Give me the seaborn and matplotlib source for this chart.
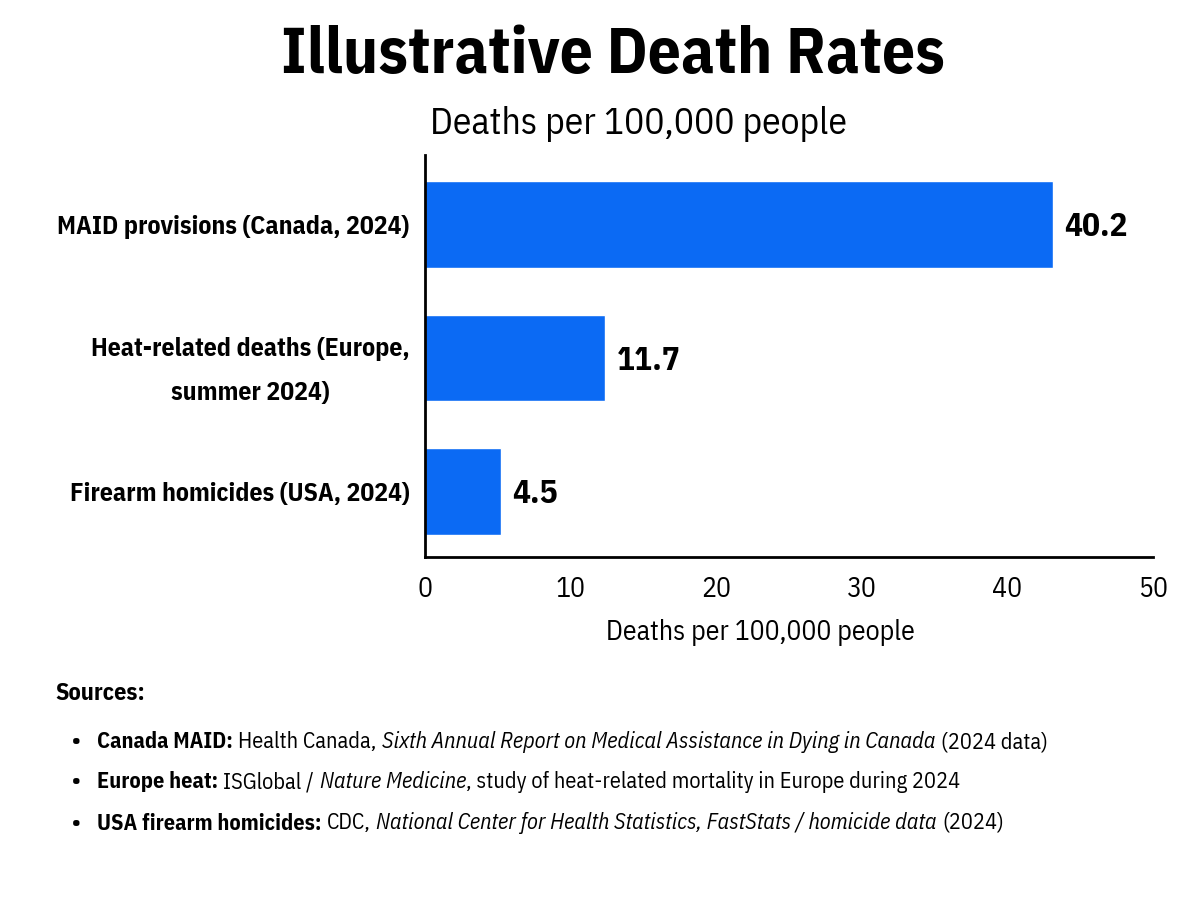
import matplotlib
matplotlib.use("Agg")
import matplotlib.pyplot as plt
import seaborn as sns
import pandas as pd

categories = [
    "MAID provisions (Canada, 2024)",
    "Heat-related deaths (Europe,\nsummer 2024)",
    "Firearm homicides (USA, 2024)",
]
bar_lengths = [43.1, 12.4, 5.2]
value_labels = ["40.2", "11.7", "4.5"]
x_ticks = [0, 10, 20, 30, 40, 50]

source_rows = [
    [("Canada MAID:", "bold"), (" Health Canada, ", "normal"),
     ("Sixth Annual Report on Medical Assistance in Dying in Canada", "italic"),
     (" (2024 data)", "normal")],
    [("Europe heat:", "bold"), (" ISGlobal / ", "normal"), ("Nature Medicine", "italic"),
     (", study of heat-related mortality in Europe during 2024", "normal")],
    [("USA firearm homicides:", "bold"), (" CDC, ", "normal"),
     ("National Center for Health Statistics, FastStats / homicide data", "italic"),
     (" (2024)", "normal")],
]

BLUE = "#0B6AF4"

sns.set_theme(style="white")
plt.rcParams["font.family"] = ["IBM Plex Sans Condensed", "DejaVu Sans"]
plt.rcParams["text.color"] = "black"

df = pd.DataFrame({"category": categories, "value": bar_lengths})

fig, ax = plt.subplots(figsize=(12, 8.98), dpi=100)
fig.subplots_adjust(left=0.354, right=0.961, top=0.827, bottom=0.380)

sns.barplot(data=df, x="value", y="category", color=BLUE, saturation=1,
            width=0.65, ax=ax)

for i, (v, lab) in enumerate(zip(bar_lengths, value_labels)):
    ax.text(v + 0.8, i + 0.02, lab, va="center", ha="left", fontsize=24,
            fontweight="bold")

ax.set_xlim(0, 50)
ax.set_ylim(2.49, -0.52)
ax.set_xticks(x_ticks)
ax.set_xlabel("")
ax.set_ylabel("")
ax.tick_params(axis="x", length=8, width=1.5, pad=6, labelsize=20,
               colors="black")
ax.tick_params(axis="y", length=0, pad=11, labelsize=18.5, labelcolor="black")
for t in ax.get_yticklabels():
    t.set_fontweight("bold")
    t.set_multialignment("center")
    t.set_linespacing(2.05)

for s in ["top", "right"]:
    ax.spines[s].set_visible(False)
for s in ["left", "bottom"]:
    ax.spines[s].set_color("black")
    ax.spines[s].set_linewidth(2)

fig.text(613 / 1200, 1 - 56 / 898, "Illustrative Death Rates", ha="center",
         va="center", fontsize=47, fontweight="bold")
fig.text(639 / 1200, 1 - 124 / 898, "Deaths per 100,000 people", ha="center",
         va="center", fontsize=27)
fig.text(760 / 1200, 1 - 633 / 898, "Deaths per 100,000 people", ha="center",
         va="center", fontsize=20)

fig.text(55 / 1200, 1 - 694 / 898, "Sources:", ha="left", va="center",
         fontsize=17.5, fontweight="bold")

renderer = fig.canvas.get_renderer()
fs = 16
space_px = fs * 0.24 * fig.dpi / 72
row_y = [742, 782, 823]
for y_px, pieces in zip(row_y, source_rows):
    yf = 1 - y_px / 898
    fig.text(76 / 1200, yf, "\u2022", ha="center", va="center", fontsize=fs,
             fontweight="bold")
    x_px = 97
    for txt, style in pieces:
        if txt.startswith(" "):
            x_px += space_px
        weight = "bold" if style == "bold" else "normal"
        fstyle = "italic" if style == "italic" else "normal"
        t = fig.text(x_px / 1200, yf, txt.strip(), ha="left", va="center",
                     fontsize=fs, fontweight=weight, fontstyle=fstyle)
        x_px = t.get_window_extent(renderer).x1
        if txt.endswith(" "):
            x_px += space_px

fig.savefig("out.png", dpi=100, facecolor="white")
